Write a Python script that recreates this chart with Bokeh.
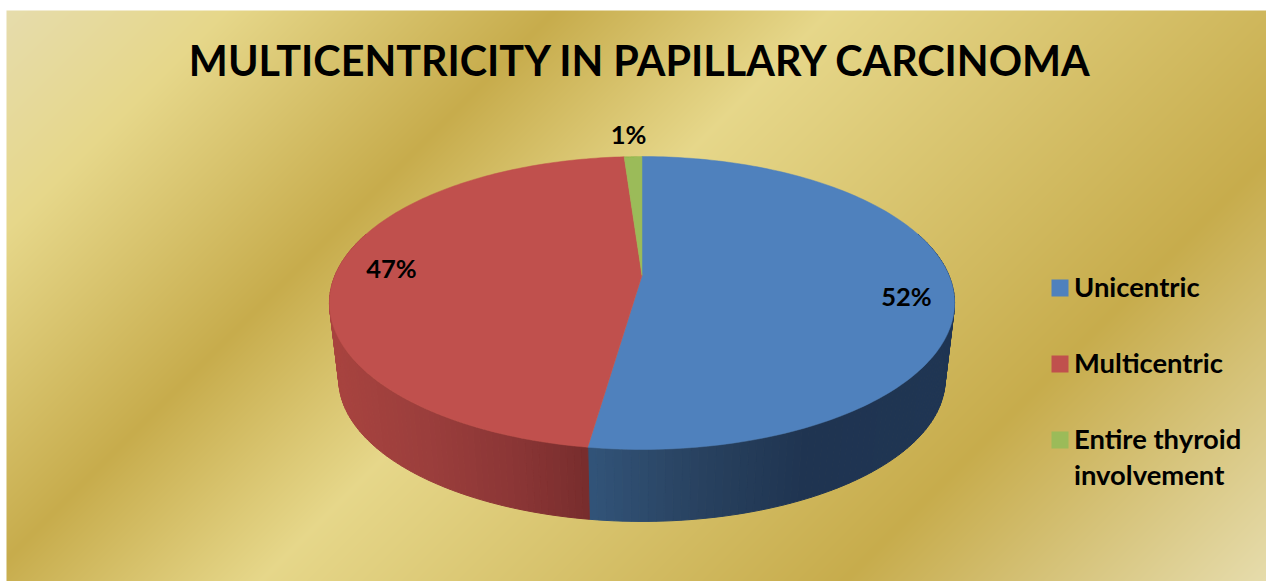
import numpy as np
from bokeh.core.properties import value
from bokeh.embed import file_html
from bokeh.models import Range1d
from bokeh.plotting import figure
from bokeh.resources import INLINE

# Chart content
title_text = "MULTICENTRICITY IN PAPILLARY CARCINOMA"
categories = ["Unicentric", "Multicentric", "Entire thyroid involvement"]
shares = [52.3, 46.6, 1.1]
top_colors = ["#4F81BD", "#C0504D", "#9BBB59"]
font = value("Lato")

W, H = 1266, 581

p = figure(width=W, height=H, output_backend="svg", toolbar_location=None,
           x_range=Range1d(0, W), y_range=Range1d(0, H), min_border=0,
           border_fill_color="white", background_fill_color="white",
           outline_line_color=None)
p.axis.visible = False
p.grid.visible = False


def up(py):
    """Convert a downward page coordinate to the plot's upward y."""
    return H - np.asarray(py, dtype=float)


def mix(stops, t):
    """Interpolate a list of (position, hex colour) stops at positions t."""
    pos = [s[0] for s in stops]
    rgb = np.array([[int(s[1][i:i + 2], 16) for i in (1, 3, 5)] for s in stops], dtype=float)
    return np.stack([np.interp(t, pos, rgb[:, c]) for c in range(3)], axis=-1)


def to_hex(c):
    return "#%02x%02x%02x" % tuple(int(round(v)) for v in c)


# Diagonal gold backdrop
left, top = 6, 10
bw, bh = W - left, H - top
gold = [(0.0, "#E6DCAC"), (0.12, "#E6D78A"), (0.30, "#C7AC4C"),
        (0.45, "#E6D78A"), (0.77, "#C7AC4C"), (1.0, "#E6DCAC")]
xx, yy = np.meshgrid(np.arange(bw), np.arange(bh))
fade = (xx + yy) / (bw + bh - 2)
shade = mix(gold, fade)[::-1]  # first image row is the bottom one
img = np.zeros((bh, bw), dtype=np.uint32)
view = img.view(dtype=np.uint8).reshape((bh, bw, 4))
view[..., :3] = np.round(shade).astype(np.uint8)
view[..., 3] = 255
p.image_rgba(image=[img], x=left, y=0, dw=bw, dh=bh)

# Perspective disc projection
cx, cy = 641.5, 275.0
xs_scale, ys_scale, persp = 307.0, 141.3, 0.1877
low_scale, low_cy = 0.97, 352.2


def rim(theta, scale=1.0, centre=cy):
    """Project a clockwise-from-top disc angle (radians) onto the page."""
    dx, dy = np.sin(theta), -np.cos(theta)
    d = 1 - persp * dy
    return cx + scale * xs_scale * dx / d, centre + scale * ys_scale * dy / d


fractions = np.array(shares) / sum(shares)
edges = np.concatenate([[0], np.cumsum(fractions)]) * 2 * np.pi

# Outer wall, drawn as thin strips shaded by horizontal position
wall_stops = [
    [(587, "#325479"), (700, "#28415F"), (800, "#1F3451"), (945, "#1F3553")],
    [(338, "#A8433F"), (430, "#9B3E3C"), (520, "#8A3535"), (587, "#782D2D")],
]
for s in range(2):
    start, stop = max(edges[s], np.pi * 0.40), min(edges[s + 1], np.pi * 1.60)
    angles = np.linspace(start, stop, 90)
    sx, sy, colors = [], [], []
    for a0, a1 in zip(angles[:-1], angles[1:]):
        x0, y0 = rim(a0)
        x1, y1 = rim(a1)
        x2, y2 = rim(a1, low_scale, low_cy)
        x3, y3 = rim(a0, low_scale, low_cy)
        sx.append([x0, x1, x2, x3])
        sy.append(list(up([y0, y1, y2, y3])))
        colors.append(to_hex(mix(wall_stops[s], np.array((x2 + x3) / 2))))
    p.patches(sx, sy, fill_color=colors, line_color=colors, line_width=1)

# Top face of the pie
for s, color in enumerate(top_colors):
    angles = np.linspace(edges[s], edges[s + 1], 160)
    ax, ay = rim(angles)
    p.patch(np.r_[cx, ax], up(np.r_[cy, ay]), fill_color=color, line_color=color, line_width=0.5)

# Title and percentage labels
p.text([640.5], up([59.5]), text=[title_text], text_font=font, text_font_style="bold",
       text_font_size="41.3px", text_color="#000000", text_align="center", text_baseline="middle")
label_x, label_y = [906, 391, 628], [295, 267, 133]
p.text(label_x, up(label_y), text=[f"{round(v)}%" for v in shares], text_font=font,
       text_font_style="bold", text_font_size="25.5px", text_color="#000000",
       text_align="center", text_baseline="middle")

# Legend
key_y = [287.5, 363.5, 439.5]
p.rect([1059.5] * 3, up(key_y), width=17, height=17, fill_color=top_colors, line_color=None)
legend_lines = [("Unicentric", 285.5), ("Multicentric", 361.5), ("Entire thyroid", 437.5), ("involvement", 473.5)]
p.text([1073.5] * 4, up([y for _, y in legend_lines]), text=[t for t, _ in legend_lines],
       text_font=font, text_font_style="bold", text_font_size="27.4px", text_color="#000000",
       text_align="left", text_baseline="middle")

open("out.html", "w").write(file_html(p, INLINE))
